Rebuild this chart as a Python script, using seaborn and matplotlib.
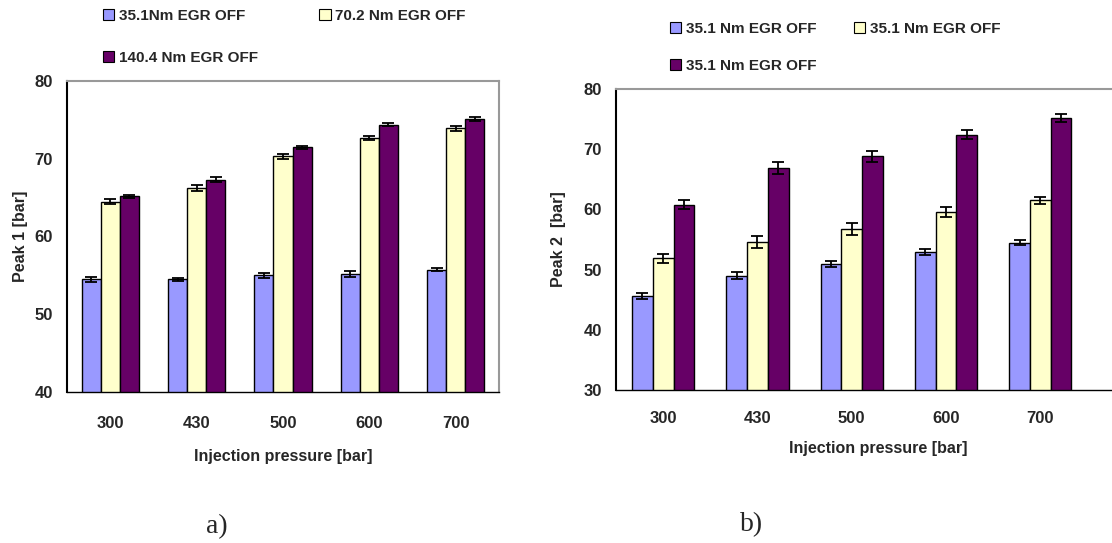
import matplotlib
matplotlib.use("Agg")
import matplotlib.pyplot as plt
from matplotlib.patches import Patch
import numpy as np
import pandas as pd
import seaborn as sns

# Injection pressures (categories)
pressures = ["300", "430", "500", "600", "700"]

# Panel a) Peak 1 [bar]
series_a = ["35.1Nm EGR OFF", "70.2 Nm EGR OFF", "140.4 Nm EGR OFF"]
peak1_low = [54.5, 54.5, 55.0, 55.2, 55.7]
peak1_mid = [64.5, 66.2, 70.3, 72.7, 73.9]
peak1_high = [65.2, 67.3, 71.5, 74.4, 75.1]
err1_low = [0.3, 0.2, 0.3, 0.35, 0.2]
err1_mid = [0.3, 0.4, 0.35, 0.25, 0.35]
err1_high = [0.2, 0.35, 0.2, 0.25, 0.25]

# Panel b) Peak 2 [bar]
series_b = ["35.1 Nm EGR OFF", "35.1 Nm EGR OFF ", "35.1 Nm EGR OFF  "]
peak2_low = [45.6, 49.0, 51.0, 52.9, 54.5]
peak2_mid = [51.9, 54.6, 56.7, 59.6, 61.5]
peak2_high = [60.8, 66.9, 68.8, 72.4, 75.2]
err2_low = [0.5, 0.55, 0.5, 0.55, 0.35]
err2_mid = [0.75, 1.05, 1.0, 0.8, 0.6]
err2_high = [0.8, 1.0, 0.9, 0.75, 0.65]

colors = ["#9999FF", "#FFFFCC", "#660066"]

FONT = "Liberation Sans"
TICK_FS = 12
LABEL_FS = 11.5
LEGEND_FS = 11


def long_table(names, values):
    rows = []
    for name, vals in zip(names, values):
        for p, v in zip(pressures, vals):
            rows.append({"pressure": p, "series": name, "value": v})
    return pd.DataFrame(rows)


def draw_panel(ax, names, values, errors, ylim, yticks, ylabel, xlim, n_minor,
               tick_pad, label_pad):
    df = long_table(names, values)
    sns.barplot(data=df, x="pressure", y="value", hue="series", order=pressures,
                hue_order=names, palette=colors, width=0.66, errorbar=None,
                edgecolor="black", linewidth=1.0, saturation=1, ax=ax, legend=False)
    for cont, err in zip(ax.containers, errors):
        xs = [b.get_x() + b.get_width() / 2 for b in cont]
        ys = [b.get_height() for b in cont]
        ax.errorbar(xs, ys, yerr=err, fmt="none", ecolor="black",
                    elinewidth=1.3, capsize=4.5, capthick=1.3, zorder=5)
    ax.set_ylim(*ylim)
    ax.set_xlim(*xlim)
    ax.set_yticks(yticks)
    ax.set_yticklabels([str(t) for t in yticks], fontsize=TICK_FS, fontweight="bold")
    ax.set_xticks(range(len(pressures)))
    ax.set_xticklabels(pressures, fontsize=TICK_FS, fontweight="bold")
    ax.set_xticks([i - 0.5 for i in range(n_minor)], minor=True)
    ax.tick_params(axis="x", which="major", length=0, pad=tick_pad)
    ax.tick_params(axis="x", which="minor", length=5, width=1, direction="out")
    ax.tick_params(axis="y", which="major", length=5, width=1, direction="out", pad=5)
    ax.set_xlabel("Injection pressure [bar]", fontsize=LABEL_FS, fontweight="bold",
                  labelpad=label_pad)
    ax.set_ylabel(ylabel, fontsize=LABEL_FS, fontweight="bold")
    ax.grid(False)
    ax.set_facecolor("white")
    ax.spines["left"].set_color("black")
    ax.spines["bottom"].set_color("black")
    ax.spines["left"].set_linewidth(1.5)
    ax.spines["bottom"].set_linewidth(1.0)
    for s in ("top", "right"):
        ax.spines[s].set_color("#999999")
        ax.spines[s].set_linewidth(1.5)


sns.set_theme(style="white")
plt.rcParams["font.family"] = [FONT, "DejaVu Sans"]

fig = plt.figure(figsize=(11.12, 5.43), dpi=100)
W, H = 1112, 543

ax1 = fig.add_axes([67 / W, 1 - 392 / H, (499 - 67) / W, (392 - 81) / H])
draw_panel(ax1, series_a, [peak1_low, peak1_mid, peak1_high],
           [err1_low, err1_mid, err1_high], (40, 80), [40, 50, 60, 70, 80],
           "Peak 1 [bar]", (-0.5, 4.5), 6, 17, 13)
ax1.yaxis.set_label_coords(-0.09, 0.5)

cat_w = 94.3
right_px = 1140
ax2 = fig.add_axes([616 / W, 1 - 390 / H, (right_px - 616) / W, (390 - 89) / H])
draw_panel(ax2, series_b, [peak2_low, peak2_mid, peak2_high],
           [err2_low, err2_mid, err2_high], (30, 80), [30, 40, 50, 60, 70, 80],
           "Peak 2  [bar]", (-0.5, -0.5 + (right_px - 616) / cat_w), 5, 15, 11)
ax2.yaxis.set_label_coords(-0.095, 0.5)


def make_legend(ax, labels, anchor, colsp, rowsp):
    handles = [Patch(facecolor=c, edgecolor="black", linewidth=0.8) for c in colors]
    # two columns filled row by row: first row holds series 1 and 2
    order = [0, 2, 1]
    leg = ax.legend([handles[i] for i in order], [labels[i] for i in order],
                    ncol=2, loc="upper left",
                    bbox_to_anchor=anchor, bbox_transform=fig.transFigure,
                    frameon=False, handlelength=0.75, handleheight=0.75,
                    handletextpad=0.3, columnspacing=colsp, labelspacing=rowsp,
                    borderaxespad=0, borderpad=0,
                    prop={"family": FONT, "weight": "bold", "size": LEGEND_FS})
    return leg


make_legend(ax1, series_a, (103 / W, 1 - 9 / H), 4.0, 1.8)
make_legend(ax2, ["35.1 Nm EGR OFF"] * 3, (670 / W, 1 - 22 / H), 2.45, 1.5)

fig.text(217 / W, 1 - 527 / H, "a)", ha="center", va="center", fontsize=20,
         family="Liberation Serif")
fig.text(752 / W, 1 - 525 / H, "b)", ha="center", va="center", fontsize=20,
         family="Liberation Serif")

fig.savefig("out.png", dpi=100, facecolor="white")
